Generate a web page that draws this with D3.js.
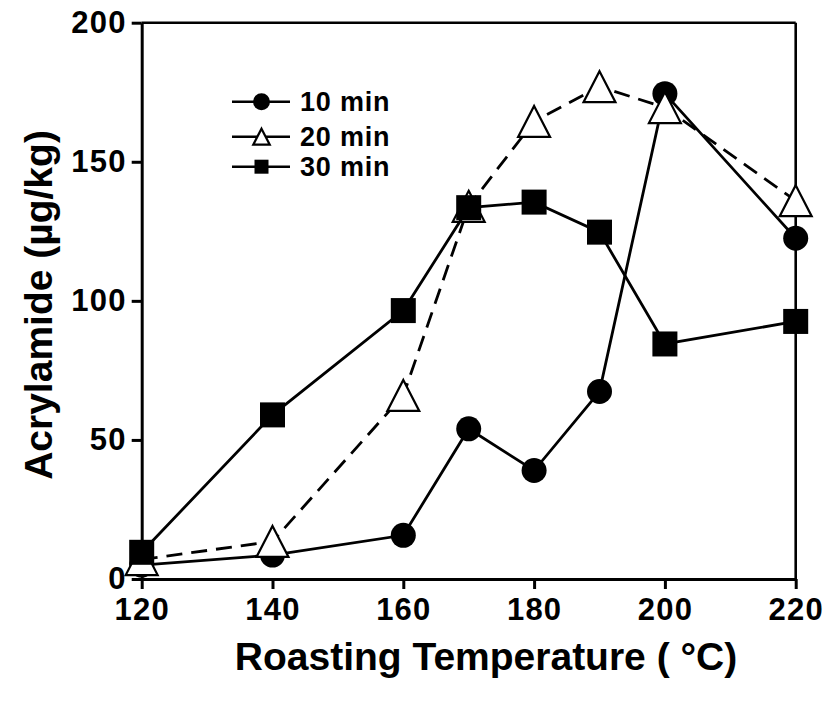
<!DOCTYPE html>
<html>
<head>
<meta charset="utf-8">
<script src="https://cdn.jsdelivr.net/npm/d3@7"></script>
<style>
  html, body { margin: 0; padding: 0; background: #fff; }
  svg { display: block; }
  text { font-family: "Liberation Sans", Arial, Helvetica, sans-serif; font-weight: bold; fill: #000; }
</style>
</head>
<body>
<svg id="chart" width="830" height="702"></svg>
<script>
// ---- data ----
const temperatures = [120, 140, 160, 170, 180, 190, 200, 220];
const series10 = [5, 8.6, 15.7, 54, 39, 67.4, 174.5, 122.5];
const series20 = [7, 13.5, 66, 134, 164.5, 177, 169.5, 136];
const series30 = [9.6, 59, 96.5, 133.5, 135.5, 124.7, 84.5, 92.6];
const seriesNames = ["10 min", "20 min", "30 min"];
const xTicks = [120, 140, 160, 180, 200, 220];
const yTicks = [0, 50, 100, 150, 200];
const xTitle = "Roasting Temperature ( \u00B0C)";
const yTitle = "Acrylamide (\u00B5g/kg)";

// ---- layout ----
const svg = d3.select("#chart");
const L = 141.7, R = 795.7, T = 22.7, B = 579;
const x = d3.scaleLinear().domain([120, 220]).range([L, R]);
const y = d3.scaleLinear().domain([0, 200]).range([B, T]);

// frame (top and right)
svg.append("line").attr("x1", L).attr("x2", R).attr("y1", T).attr("y2", T)
  .attr("stroke", "#000").attr("stroke-width", 2.6);
svg.append("line").attr("x1", R).attr("x2", R).attr("y1", T).attr("y2", B)
  .attr("stroke", "#000").attr("stroke-width", 2.6);

// axes
const xAxis = svg.append("g").attr("transform", `translate(0,${B})`)
  .call(d3.axisBottom(x).tickValues(xTicks).tickSize(10).tickPadding(9).tickSizeOuter(0));
const yAxis = svg.append("g").attr("transform", `translate(${L},0)`)
  .call(d3.axisLeft(y).tickValues(yTicks).tickSize(10).tickPadding(5).tickSizeOuter(0));
[xAxis, yAxis].forEach(g => {
  g.select(".domain").attr("stroke", "#000").attr("stroke-width", 3);
  g.selectAll(".tick line").attr("stroke", "#000").attr("stroke-width", 3);
  g.selectAll(".tick text").attr("font-size", 31).attr("font-family", "'Liberation Sans', Arial, sans-serif")
    .attr("font-weight", "bold").attr("fill", "#000").attr("letter-spacing", 1.2);
});
xAxis.selectAll(".tick text").attr("dy", "0.71em");
yAxis.selectAll(".tick text").attr("dy", "0.32em");

// axis titles
svg.append("text").attr("x", 486).attr("y", 670).attr("text-anchor", "middle")
  .attr("font-size", 39).text(xTitle);
svg.append("text").attr("transform", "translate(52,305) rotate(-90)")
  .attr("text-anchor", "middle").attr("font-size", 39).text(yTitle);

// markers
const triPath = (w, h) => `M0,${-h/2}L${w/2},${h/2}L${-w/2},${h/2}Z`;
function drawMarker(g, type, cx, cy, size) {
  if (type === "circle") {
    g.append("circle").attr("cx", cx).attr("cy", cy).attr("r", size / 2).attr("fill", "#000");
  } else if (type === "triangle") {
    g.append("path").attr("d", triPath(size * 1.03, size)).attr("transform", `translate(${cx},${cy})`)
      .attr("fill", "#fff").attr("stroke", "#000").attr("stroke-width", 2.2);
  } else {
    g.append("rect").attr("x", cx - size / 2).attr("y", cy - size / 2)
      .attr("width", size).attr("height", size).attr("fill", "#000");
  }
}

const allSeries = [
  { name: seriesNames[0], values: series10, marker: "circle", size: 25, dash: null },
  { name: seriesNames[1], values: series20, marker: "triangle", size: 31, dash: "16,9" },
  { name: seriesNames[2], values: series30, marker: "square", size: 25, dash: null }
];

const line = d3.line().x(d => x(d[0])).y(d => y(d[1]));
allSeries.forEach(s => {
  const pts = temperatures.map((t, i) => [t, s.values[i]]);
  const g = svg.append("g");
  g.append("path").attr("d", line(pts)).attr("fill", "none").attr("stroke", "#000")
    .attr("stroke-width", 2.8).attr("stroke-dasharray", s.dash);
  pts.forEach(p => drawMarker(g, s.marker, x(p[0]), y(p[1]), s.size));
});

// legend
const legendY = [101.7, 136.7, 166.7];
const legendSizes = [17, 16, 14];
allSeries.forEach((s, i) => {
  const g = svg.append("g");
  g.append("line").attr("x1", 232).attr("x2", 290).attr("y1", legendY[i]).attr("y2", legendY[i])
    .attr("stroke", "#000").attr("stroke-width", 2.6);
  drawMarker(g, s.marker, 261.5, legendY[i], legendSizes[i]);
  g.append("text").attr("x", 300).attr("y", legendY[i]).attr("dy", "0.36em")
    .attr("font-size", 27).attr("letter-spacing", 0.8).text(s.name);
});
</script>
</body>
</html>
